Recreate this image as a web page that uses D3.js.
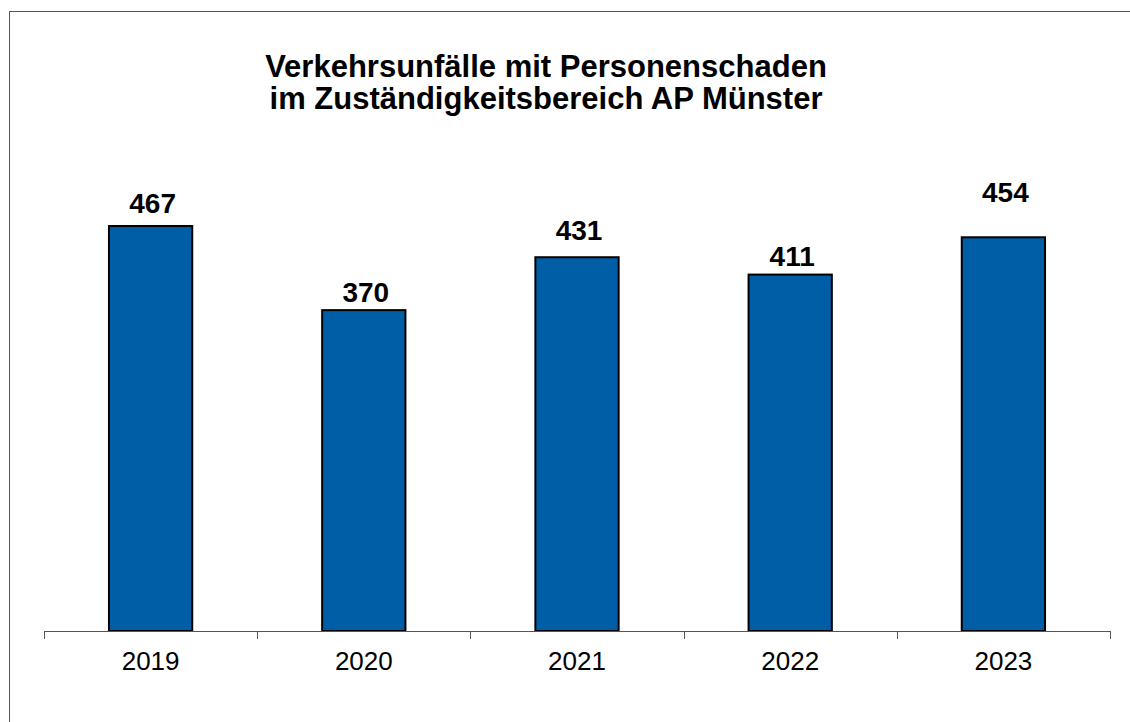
<!doctype html>
<html>
<head>
<meta charset="utf-8">
<style>
body { margin: 0; background: #fff; }
svg text { font-family: "Liberation Sans", Arial, sans-serif; fill: #000; }
.bar { fill: #005ea6; stroke: #000; stroke-width: 2px; }
.value { font-weight: bold; font-size: 28px; }
.title { font-weight: bold; font-size: 31px; }
.year { font-size: 26px; }
</style>
</head>
<body>
<div id="root"></div>
<script src="https://d3js.org/d3.v7.min.js"></script>
<script>
var years = ['2019', '2020', '2021', '2022', '2023'];
var accidents = [467, 370, 431, 411, 454];
var titleLines = ['Verkehrsunfälle mit Personenschaden', 'im Zuständigkeitsbereich AP Münster'];

// gap between bar top and label baseline, as placed in the original
var labelGap = { '2019': 13, '2020': 8, '2021': 17, '2022': 9, '2023': 35 };

var width = 1130, height = 722;

var svg = d3.select('#root').append('svg')
	.attr('width', width)
	.attr('height', height);

// frame
svg.append('rect')
	.attr('x', 9.5).attr('y', 11.5)
	.attr('width', width).attr('height', height)
	.attr('fill', 'none')
	.attr('stroke', '#555')
	.attr('stroke-width', 1);

var x = d3.scaleBand()
	.domain(years)
	.range([44, 1110])
	.paddingInner(0.6)
	.paddingOuter(0.3);

var y = d3.scaleLinear()
	.domain([0, 540])
	.range([631, 631 - 540 * 0.8672]);

svg.append('text')
	.attr('class', 'title')
	.attr('text-anchor', 'middle')
	.selectAll('tspan')
	.data(titleLines)
	.enter().append('tspan')
		.attr('x', 546)
		.attr('y', function(d, i) { return 77 + i * 32; })
		.text(function(d) { return d; });

svg.selectAll('.bar')
	.data(accidents)
	.enter().append('rect')
		.attr('class', 'bar')
		.attr('x', function(d, i) { return x(years[i]) + 1; })
		.attr('y', function(d) { return y(d); })
		.attr('width', x.bandwidth() - 2)
		.attr('height', function(d) { return y(0) - y(d); });

svg.selectAll('.value')
	.data(accidents)
	.enter().append('text')
		.attr('class', 'value')
		.attr('text-anchor', 'middle')
		.attr('x', function(d, i) { return x(years[i]) + x.bandwidth() / 2 + 2; })
		.attr('y', function(d, i) { return y(d) - labelGap[years[i]]; })
		.text(function(d) { return d; });

// category axis: line with ticks between the categories
var edges = d3.scaleLinear().domain([0, years.length]).range(x.range());
var axis = svg.append('g');
axis.append('line')
	.attr('x1', edges(0)).attr('x2', edges(years.length))
	.attr('y1', y(0) + 0.5).attr('y2', y(0) + 0.5)
	.attr('stroke', '#555');
axis.selectAll('.tick')
	.data(d3.range(years.length + 1))
	.enter().append('line')
		.attr('x1', function(d) { return Math.round(edges(d)) + 0.5; })
		.attr('x2', function(d) { return Math.round(edges(d)) + 0.5; })
		.attr('y1', y(0)).attr('y2', y(0) + 8)
		.attr('stroke', '#555');
axis.selectAll('.year')
	.data(years)
	.enter().append('text')
		.attr('class', 'year')
		.attr('text-anchor', 'middle')
		.attr('x', function(d) { return x(d) + x.bandwidth() / 2; })
		.attr('y', 670)
		.text(function(d) { return d; });
</script>
</body>
</html>
